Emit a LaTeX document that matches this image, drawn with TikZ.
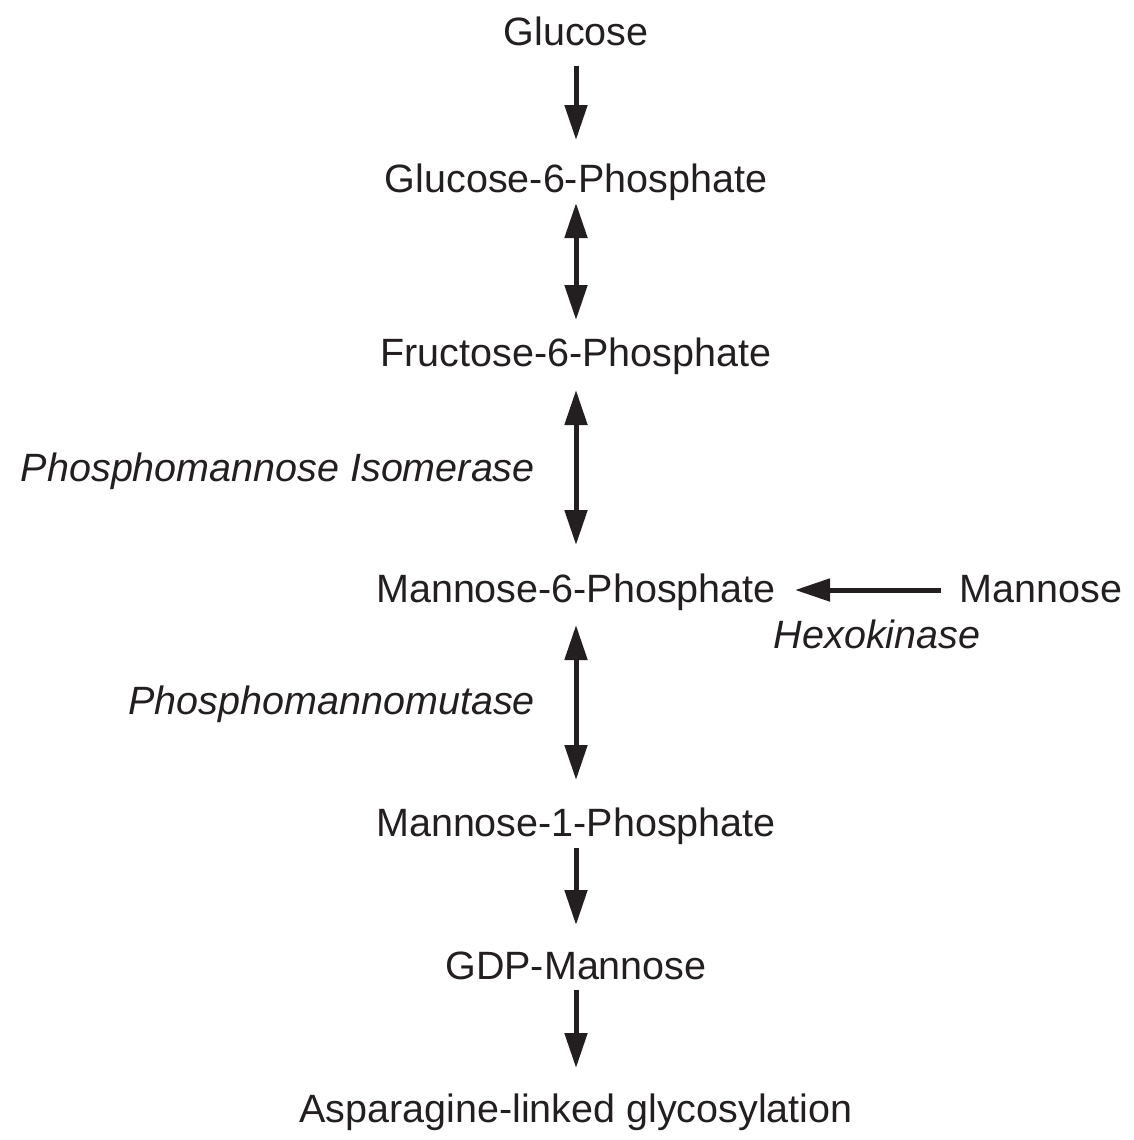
\documentclass[tikz,border=0pt]{standalone}
\usepackage{fontspec}
\setmainfont{Liberation Sans}
\usetikzlibrary{arrows.meta}
\definecolor{ink}{HTML}{231F20}
\begin{document}
\begin{tikzpicture}[x=1pt,y=-1pt,
  metab/.style={anchor=base,inner sep=0pt,text=ink,font=\fontsize{39.5}{46}\selectfont},
  enzyme/.style={anchor=base,inner sep=0pt,text=ink,font=\fontsize{39.5}{46}\selectfont\itshape},
  rxn/.style={draw=ink,line width=5pt,-{Triangle[width=22pt,length=35pt]}},
  rev/.style={draw=ink,line width=5pt,{Triangle[width=22pt,length=35pt]}-{Triangle[width=22pt,length=35pt]}}]
\useasboundingbox (0,0) rectangle (1134,1140);
% metabolites
\node[metab] (glc) at (576,46) {Glucose};
\node[metab] (g6p) at (576,192) {Glucose-6-Phosphate};
\node[metab] (f6p) at (576,366) {Fructose-6-Phosphate};
\node[metab] (m6p) at (576,602) {Mannose-6-Phosphate};
\node[metab] (man) at (1041,602) {Mannose};
\node[metab] (m1p) at (576,836) {Mannose-1-Phosphate};
\node[metab] (gdp) at (576,979) {GDP-Mannose};
\node[metab] (asn) at (576,1122) {Asparagine-linked glycosylation};
% enzymes
\node[enzyme,anchor=base east] (pmi) at (535,481) {Phosphomannose Isomerase};
\node[enzyme] (hk) at (877,648) {Hexokinase};
\node[enzyme,anchor=base east] (pmm) at (535,714) {Phosphomannomutase};
% reaction endpoints
\coordinate (a1) at (576,66);  \coordinate (b1) at (576,140);
\coordinate (a2) at (576,203); \coordinate (b2) at (576,320);
\coordinate (a3) at (576,390); \coordinate (b3) at (576,545);
\coordinate (a4) at (576,625); \coordinate (b4) at (576,780);
\coordinate (a5) at (576,848); \coordinate (b5) at (576,925);
\coordinate (a6) at (576,990); \coordinate (b6) at (576,1068);
\coordinate (h1) at (941,590); \coordinate (h2) at (795,590);
% reactions
\draw[rxn] (a1) -- (b1);
\draw[rev] (a2) -- (b2);
\draw[rev] (a3) -- (b3);
\draw[rev] (a4) -- (b4);
\draw[rxn] (a5) -- (b5);
\draw[rxn] (a6) -- (b6);
\draw[rxn] (h1) -- (h2);
\end{tikzpicture}
\end{document}
